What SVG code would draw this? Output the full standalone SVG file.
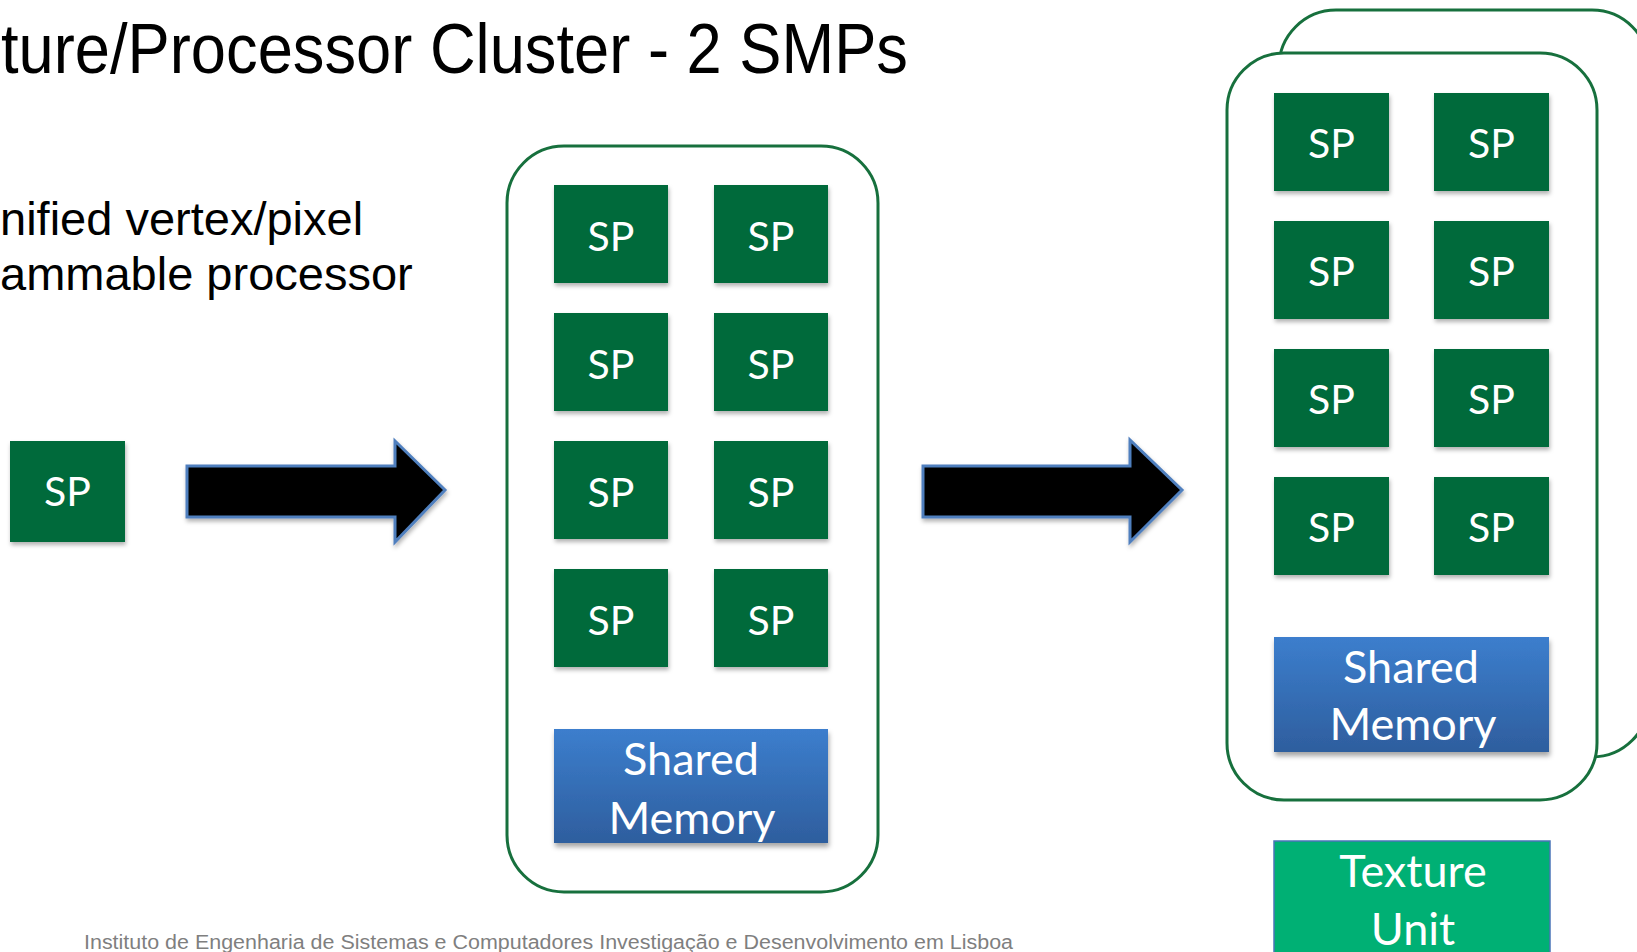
<svg xmlns="http://www.w3.org/2000/svg" width="1637" height="952" viewBox="0 0 1637 952">
<style>
.sp{fill:#036A3A;filter:url(#sh)}
.spt{fill:#fff;font-family:Lato,"Open Sans",sans-serif;font-size:41px;text-anchor:middle}
.mem{fill:url(#mg);filter:url(#sh2)}
.memt{fill:#fff;font-family:Lato,"Open Sans",sans-serif;font-size:45px;text-anchor:middle}
.clu{fill:#fff;stroke:#17703D;stroke-width:3}
.arr{fill:#000;stroke:#4F7FBE;stroke-width:3;stroke-linejoin:miter;filter:url(#sh)}
.body{fill:#000;font-family:"Liberation Sans",Arial,sans-serif;font-size:47px}
</style>
<defs>
<linearGradient id="mg" x1="0" y1="0" x2="0" y2="1">
<stop offset="0" stop-color="#3C7ECD"/>
<stop offset="1" stop-color="#2E5E9E"/>
</linearGradient>
<filter id="sh" x="-10%" y="-10%" width="120%" height="130%">
<feDropShadow dx="1" dy="3" stdDeviation="2" flood-color="#000" flood-opacity="0.3"/>
</filter>
<filter id="sh2" x="-10%" y="-10%" width="120%" height="130%">
<feDropShadow dx="1" dy="4" stdDeviation="2.5" flood-color="#000" flood-opacity="0.35"/>
</filter>
</defs>
<rect width="1637" height="952" fill="#fff"/>
<g id="title">
<text x="1" y="73" font-family="Liberation Sans, Arial, sans-serif" font-size="70" textLength="907" lengthAdjust="spacingAndGlyphs">ture/Processor Cluster - 2 SMPs</text>
</g>
<g id="desc">
<text class="body" x="0" y="235">nified vertex/pixel</text>
<text class="body" x="0" y="290">ammable processor</text>
</g>
<g id="sp-single">
<rect class="sp" x="10" y="441" width="115" height="101"/>
<text class="spt" x="67.5" y="506" font-size="42">SP</text>
</g>
<g id="connectors">
<polygon class="arr" points="187,466 395,466 395,441 445,490 395,542 395,517 187,517"/>
<polygon class="arr" points="923,466 1130,466 1130,440 1182,490 1130,542 1130,517 923,517"/>
</g>
<g id="smp1">
<rect class="clu" x="507" y="146" width="371" height="746" rx="57" ry="57"/>
<g id="smp1-sp">
<rect class="sp" x="554" y="185" width="114" height="98"/><text class="spt" x="611" y="251">SP</text>
<rect class="sp" x="714" y="185" width="114" height="98"/><text class="spt" x="771" y="251">SP</text>
<rect class="sp" x="554" y="313" width="114" height="98"/><text class="spt" x="611" y="379">SP</text>
<rect class="sp" x="714" y="313" width="114" height="98"/><text class="spt" x="771" y="379">SP</text>
<rect class="sp" x="554" y="441" width="114" height="98"/><text class="spt" x="611" y="507">SP</text>
<rect class="sp" x="714" y="441" width="114" height="98"/><text class="spt" x="771" y="507">SP</text>
<rect class="sp" x="554" y="569" width="114" height="98"/><text class="spt" x="611" y="635">SP</text>
<rect class="sp" x="714" y="569" width="114" height="98"/><text class="spt" x="771" y="635">SP</text>
</g>
<g id="smp1-mem">
<rect class="mem" x="554" y="729" width="274" height="114"/>
<text class="memt" x="691" y="775">Shared</text>
<text class="memt" x="692" y="834">Memory</text>
</g>
</g>
<g id="smp2-back">
<rect class="clu" x="1279" y="10" width="370" height="747" rx="57" ry="57"/>
</g>
<g id="smp2">
<rect class="clu" x="1227" y="53" width="370" height="747" rx="57" ry="57"/>
<g id="smp2-sp">
<rect class="sp" x="1274" y="93" width="115" height="98"/><text class="spt" x="1331.5" y="158">SP</text>
<rect class="sp" x="1434" y="93" width="115" height="98"/><text class="spt" x="1491.5" y="158">SP</text>
<rect class="sp" x="1274" y="221" width="115" height="98"/><text class="spt" x="1331.5" y="286">SP</text>
<rect class="sp" x="1434" y="221" width="115" height="98"/><text class="spt" x="1491.5" y="286">SP</text>
<rect class="sp" x="1274" y="349" width="115" height="98"/><text class="spt" x="1331.5" y="414">SP</text>
<rect class="sp" x="1434" y="349" width="115" height="98"/><text class="spt" x="1491.5" y="414">SP</text>
<rect class="sp" x="1274" y="477" width="115" height="98"/><text class="spt" x="1331.5" y="542">SP</text>
<rect class="sp" x="1434" y="477" width="115" height="98"/><text class="spt" x="1491.5" y="542">SP</text>
</g>
<g id="smp2-mem">
<rect class="mem" x="1274" y="637" width="275" height="115"/>
<text class="memt" x="1411" y="683">Shared</text>
<text class="memt" x="1413" y="740">Memory</text>
</g>
</g>
<g id="texture">
<rect x="1274" y="841" width="276" height="130" fill="#00B074" stroke="#4A74B8" stroke-width="1.5"/>
<text class="memt" x="1413" y="887">Texture</text>
<text class="memt" x="1413" y="945">Unit</text>
</g>
<g id="footer">
<text x="84" y="949" font-family="Liberation Sans, Arial, sans-serif" font-size="20" fill="#7F7F7F" textLength="929" lengthAdjust="spacingAndGlyphs">Instituto de Engenharia de Sistemas e Computadores Investigação e Desenvolvimento em Lisboa</text>
</g>
</svg>
